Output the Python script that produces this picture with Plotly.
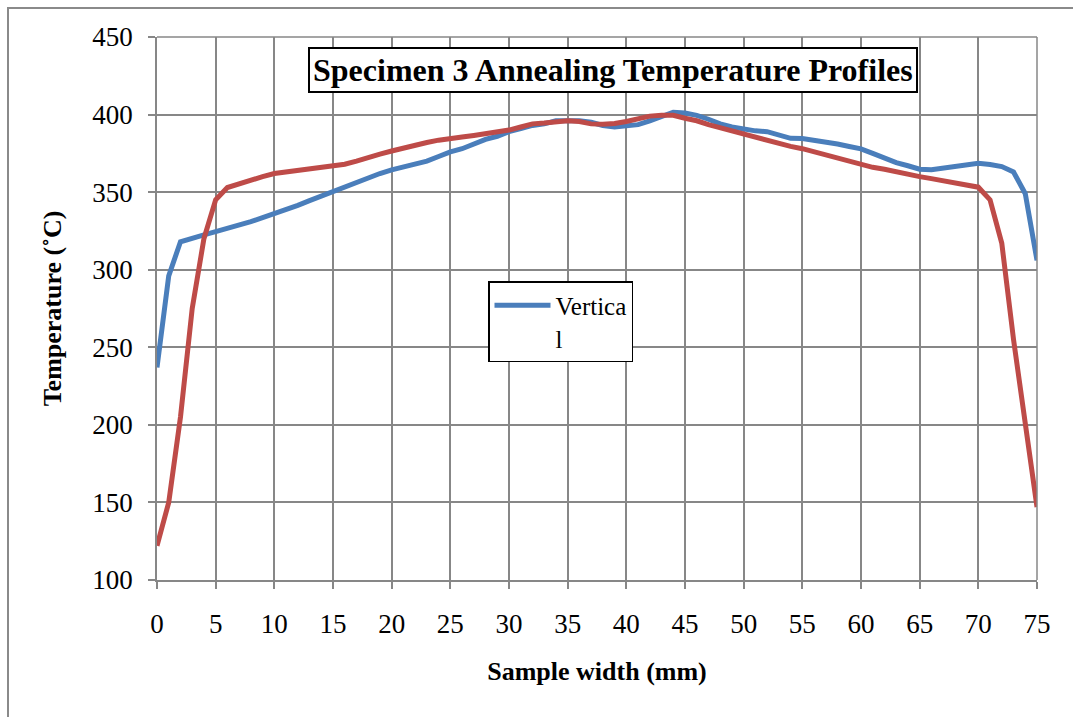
import plotly.graph_objects as go

# Sample position across the width (mm), one reading per millimetre
width_mm = list(range(0, 76))

vertical = [
    237, 296, 318, 320.5, 322.5, 324.5, 326.5, 328.5, 331, 333.5,
    336, 338.5, 341.5, 344.5, 347.5, 350.5, 353.5, 356.5, 359.5, 362,
    364.4, 366.5, 368.5, 370, 373, 376, 378, 381, 384, 386,
    389, 391, 393, 394, 396, 396, 396, 395, 393, 392,
    392.5, 393.5, 396, 399, 401.5, 401, 399.5, 397, 394, 392,
    390.5, 389.5, 389, 386.5, 384.7, 384.6, 383.5, 382.6, 381, 379.4,
    377.9, 375, 371.9, 369, 367, 364.8, 364.4, 365.5, 366.5, 367.3,
    368.6, 367.8, 366.5, 363, 349, 306,
]

horizontal = [
    122, 150, 205, 275, 320, 345, 353, 355.5, 358, 360,
    362, 363, 364, 365.5, 366.5, 367, 368, 370, 372.5, 374.5,
    376.5, 378.5, 380.5, 382, 383.5, 384.8, 385.5, 386.5, 387.5, 388.5,
    390, 392, 394, 394.5, 395.5, 396, 395.5, 394, 393.8, 394.2,
    395.5, 397, 399, 399.5, 399.5, 397.6, 396, 393.5, 391.5, 389,
    386.9, 385, 383, 381, 379.5, 378, 376, 374, 372, 370,
    367.6, 366, 364.8, 363, 361.5, 360, 358.7, 357.5, 356.2, 355,
    353.2, 345, 317, 255, 200, 147,
]

x_ticks = list(range(0, 80, 5))
y_ticks = list(range(100, 500, 50))

FONT = "Liberation Serif, Times New Roman, serif"
GRID = "#878787"

fig = go.Figure()
fig.add_trace(go.Scatter(
    x=width_mm, y=vertical, mode="lines", name="Vertica<br>l",
    line=dict(color="#4a7ebb", width=5),
))
fig.add_trace(go.Scatter(
    x=width_mm, y=horizontal, mode="lines", name="Horizontal",
    line=dict(color="#be4b48", width=5), showlegend=False,
))

W, H = 1073, 717
L, R, T, B = 157, 36, 37, 137
pw, ph = W - L - R, H - T - B


def px(xp):
    return (xp - L) / pw


def py(yp):
    return (H - B - yp) / ph


fig.update_layout(
    width=W, height=H,
    margin=dict(l=L, r=R, t=T, b=B),
    paper_bgcolor="white", plot_bgcolor="white",
    font=dict(family=FONT, color="black", size=27),
    showlegend=True,
    legend=dict(
        x=px(488), y=py(281), xanchor="left", yanchor="top",
        bordercolor="black", borderwidth=1.5, bgcolor="white",
        font=dict(family=FONT, size=25), valign="top", itemwidth=56,
    ),
    xaxis=dict(
        range=[0, 75], tickvals=x_ticks, ticktext=[str(v) for v in x_ticks],
        showgrid=True, gridcolor=GRID, gridwidth=1.5,
        showline=True, linecolor=GRID, linewidth=1.5,
        ticks="outside", ticklen=7, tickcolor=GRID, tickwidth=1.5,
        ticklabelstandoff=12,
        tickfont=dict(size=27), zeroline=False,
        title=dict(text="<b>Sample width (mm)</b>", font=dict(size=26), standoff=24),
    ),
    yaxis=dict(
        range=[100, 450], tickvals=y_ticks,
        showgrid=True, gridcolor=GRID, gridwidth=1.5,
        showline=True, linecolor=GRID, linewidth=1.5, mirror=False,
        ticks="outside", ticklen=7, tickcolor=GRID, tickwidth=1.5,
        ticklabelstandoff=10,
        tickfont=dict(size=27), zeroline=False,
        title=dict(text="<b>Temperature (˚C)</b>", font=dict(size=26), standoff=23),
    ),
    shapes=[
        dict(type="rect", xref="paper", yref="paper",
             x0=px(8), x1=px(1090), y0=py(8), y1=py(740),
             line=dict(color="#8a8a8a", width=2), layer="below"),
        dict(type="line", xref="paper", yref="paper",
             x0=1, x1=1, y0=0, y1=1, line=dict(color=GRID, width=1.5)),
        dict(type="line", xref="paper", yref="paper",
             x0=0, x1=1, y0=1, y1=1, line=dict(color=GRID, width=1.5)),
    ],
    annotations=[
        dict(text="<b>Specimen 3 Annealing Temperature Profiles</b>",
             xref="paper", yref="paper", x=px(613), y=py(70),
             xanchor="center", yanchor="middle", showarrow=False,
             font=dict(family=FONT, size=32),
             bordercolor="black", borderwidth=2, borderpad=3, bgcolor="white"),
    ],
)

fig.write_html("out.html")
